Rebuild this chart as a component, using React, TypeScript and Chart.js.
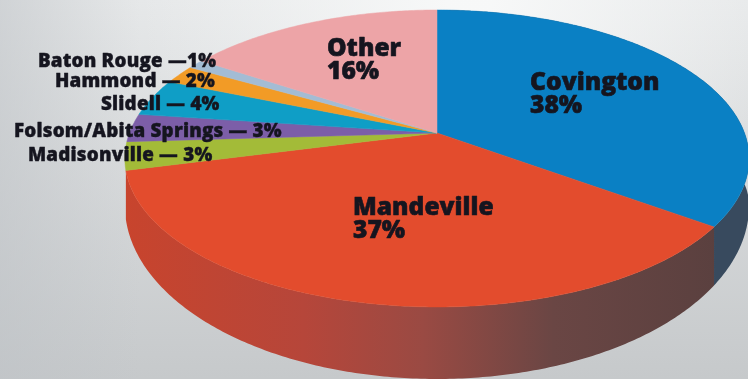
import { useEffect, useRef } from "react";
import { Chart, registerables } from "chart.js";

Chart.register(...registerables);

const towns = ["Covington", "Mandeville", "Madisonville", "Folsom/Abita Springs", "Slidell", "Hammond", "Baton Rouge", "Other"];
const shares = [38, 37, 3, 3, 4, 2, 1, 16];
const faceColors = ["#0a80c4", "#e34c2d", "#a3bb38", "#7c5ea8", "#0f9ec6", "#f29b26", "#a3bcd4", "#eda4a7"];

// Side-wall shading, left to right across the canvas, for the slices that face the viewer.
const wallStops: Record<string, [number, string][]> = {
  Covington: [[0, "#46505e"], [1, "#384a5e"]],
  Mandeville: [[0, "#c8442d"], [0.3, "#b6463a"], [0.5, "#9a4a43"], [0.72, "#6a4644"], [1, "#5a403f"]],
};

// Projection of the pie plane onto the canvas, with the hub sitting above the rim's centre.
const HUB_X = 437;
const HUB_Y = 133;
const SCALE_X = 307.5;
const SCALE_Y = 144.1;
const TILT = -0.1717;
const RIM_RX = 312;
// Slight angular foreshortening, zero at twelve o'clock and largest at six.
const FORESHORTEN = (3.4 * Math.PI) / 180;

const project = (angle: number) => {
  const fromTop = angle + Math.PI / 2;
  const a = angle - FORESHORTEN * (1 - Math.cos(fromTop));
  const w = 1 + TILT * Math.sin(a);
  return { x: HUB_X + (SCALE_X * Math.cos(a)) / w, y: HUB_Y + (SCALE_Y * Math.sin(a)) / w };
};

const wallDepth = (x: number) => {
  const t = Math.min(1, Math.abs(x - HUB_X) / RIM_RX);
  return 47 + 25 * Math.sqrt(1 - t * t);
};

const rimPoints = (start: number, end: number) => {
  const steps = Math.max(4, Math.ceil((end - start) * 90));
  const pts: { x: number; y: number }[] = [];
  for (let i = 0; i <= steps; i++) pts.push(project(start + ((end - start) * i) / steps));
  return pts;
};

const BODY_FONT = '"Open Sans", "Liberation Sans", sans-serif';
const INK = "#15151f";

const tiltedPie = {
  id: "tiltedPie",
  beforeDraw(chart: any) {
    const { ctx, width, height } = chart;
    const base = ctx.createLinearGradient(0, 0, 0, height);
    base.addColorStop(0, "#e6e8e9");
    base.addColorStop(1, "#c6c9cb");
    ctx.fillStyle = base;
    ctx.fillRect(0, 0, width, height);
    const glow = ctx.createRadialGradient(470, 0, 20, 470, 0, 330);
    glow.addColorStop(0, "rgba(248,249,249,0.95)");
    glow.addColorStop(1, "rgba(248,249,249,0)");
    ctx.fillStyle = glow;
    ctx.fillRect(0, 0, width, height);
    const shade = ctx.createLinearGradient(0, 0, 140, 0);
    shade.addColorStop(0, "rgba(190,194,198,0.55)");
    shade.addColorStop(1, "rgba(190,194,198,0)");
    ctx.fillStyle = shade;
    ctx.fillRect(0, 0, 140, height);
  },
  beforeDatasetsDraw(chart: any) {
    const { ctx, data } = chart;
    const arcs = chart.getDatasetMeta(0).data;

    // Walls first, so the top faces cover whatever lies behind the rim.
    arcs.forEach((arc: any, i: number) => {
      const stops = wallStops[data.labels[i]];
      if (!stops) return;
      const rim = rimPoints(arc.startAngle, arc.endAngle);
      const grad = ctx.createLinearGradient(125, 0, 720, 0);
      stops.forEach(([at, c]) => grad.addColorStop(at, c));
      ctx.beginPath();
      rim.forEach((p, k) => (k ? ctx.lineTo(p.x, p.y) : ctx.moveTo(p.x, p.y)));
      [...rim].reverse().forEach((p) => ctx.lineTo(p.x, p.y + wallDepth(p.x)));
      ctx.closePath();
      ctx.fillStyle = grad;
      ctx.fill();
    });

    arcs.forEach((arc: any, i: number) => {
      ctx.beginPath();
      ctx.moveTo(HUB_X, HUB_Y);
      rimPoints(arc.startAngle, arc.endAngle).forEach((p) => ctx.lineTo(p.x, p.y));
      ctx.closePath();
      ctx.fillStyle = data.datasets[0].backgroundColor[i];
      ctx.strokeStyle = data.datasets[0].backgroundColor[i];
      ctx.lineWidth = 0.5;
      ctx.fill();
      ctx.stroke();
    });
    return false;
  },
  afterDraw(chart: any) {
    const { ctx } = chart;
    ctx.save();
    ctx.fillStyle = INK;
    ctx.strokeStyle = INK;
    ctx.textAlign = "left";
    ctx.textBaseline = "alphabetic";
    ctx.lineJoin = "round";

    const put = (text: string, x: number, y: number) => {
      ctx.strokeText(text, x, y);
      ctx.fillText(text, x, y);
    };

    ctx.lineWidth = 0.6;
    const big = (name: string, share: number, x: number, y: number) => {
      ctx.font = `800 24.6px ${BODY_FONT}`;
      put(name, x, y);
      put(`${share}%`, x, y + 23);
    };
    big(towns[0], shares[0], 530, 90);
    big(towns[1], shares[1], 353, 215);
    big(towns[7], shares[7], 327, 56);

    ctx.lineWidth = 0.4;
    ctx.font = `800 18.8px ${BODY_FONT}`;
    ctx.letterSpacing = "0.2px";
    const small = (i: number, dash: string, x: number, y: number) =>
      put(`${towns[i]} ${dash}${shares[i]}%`, x, y);
    small(6, "\u2014", 38, 67);
    small(5, "\u2014 ", 55, 87);
    small(4, "\u2014 ", 101, 110);
    small(3, "\u2014 ", 14, 137);
    small(2, "\u2014 ", 28, 161);
    ctx.restore();
  },
};

export default function App() {
  const ref = useRef<HTMLCanvasElement>(null);
  useEffect(() => {
    const chart = new Chart(ref.current!, {
      type: "pie",
      data: { labels: towns, datasets: [{ data: shares, backgroundColor: faceColors, borderWidth: 0 }] },
      options: {
        animation: false,
        responsive: false,
        plugins: { legend: { display: false }, tooltip: { enabled: false } },
      },
      plugins: [tiltedPie],
    } as any);
    return () => chart.destroy();
  }, []);
  return (
    <div style={{ position: "absolute", left: 0, top: 0, width: 748, height: 379, overflow: "hidden" }}>
      <canvas ref={ref} width={748} height={379} style={{ display: "block" }} />
    </div>
  );
}
